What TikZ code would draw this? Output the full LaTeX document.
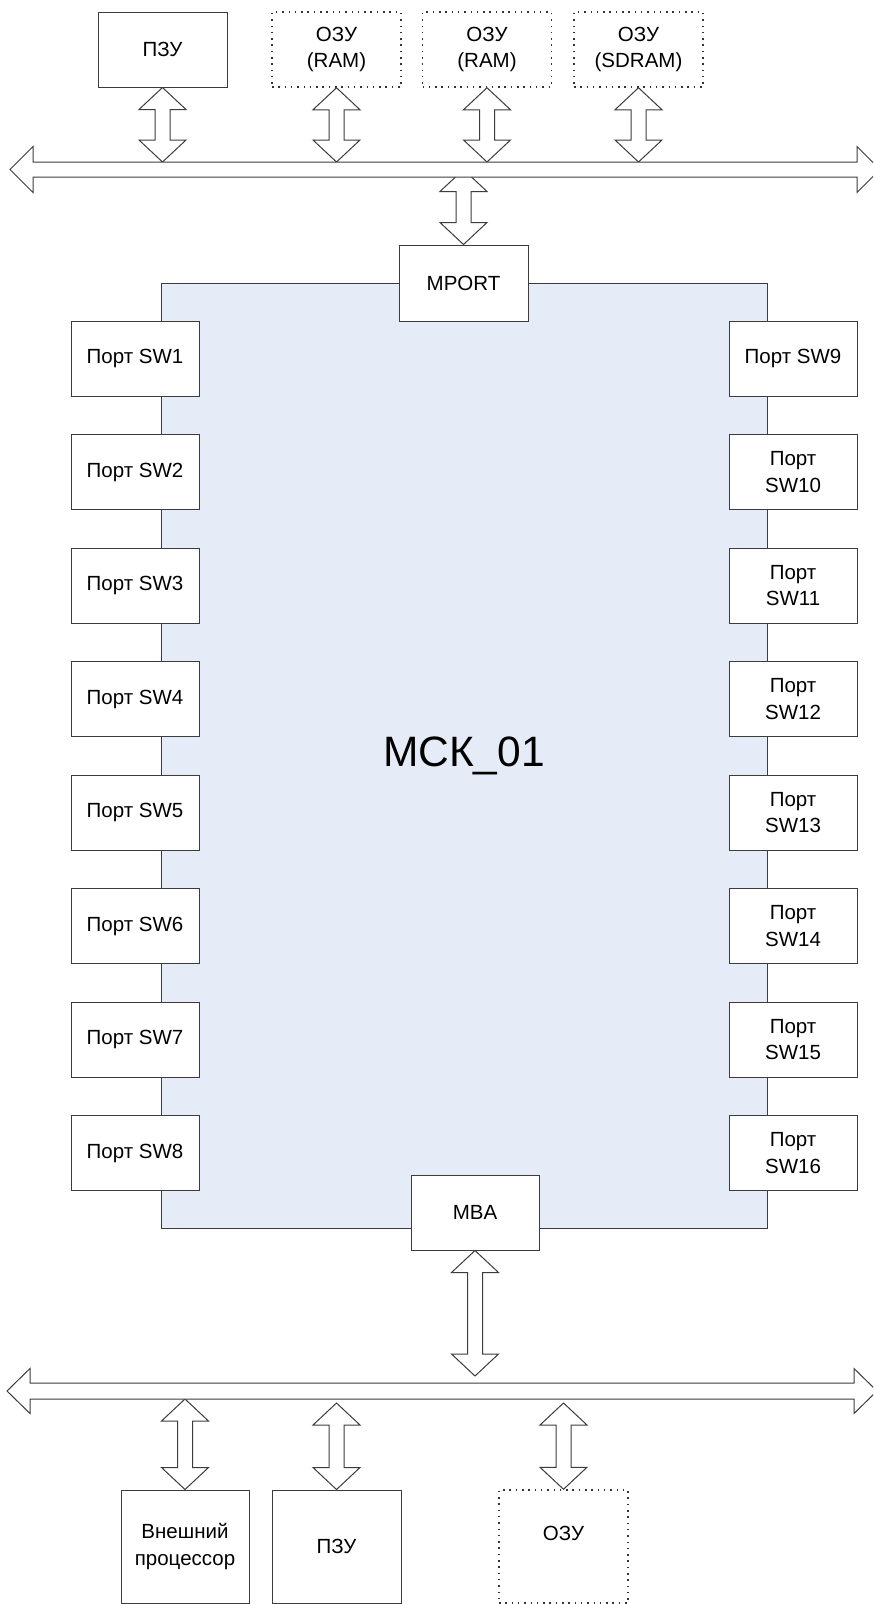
\documentclass[tikz,border=0pt]{standalone}
\usepackage{fontspec}
\setmainfont{Liberation Sans}
\usetikzlibrary{calc}
\definecolor{linec}{RGB}{60,60,60}
\definecolor{mskfill}{RGB}{230,236,247}
% vertical double arrow between two named points (first one is the upper)
\newcommand\dbarrow[2]{%
  \draw[dba] let \p1=(#1), \p2=(#2) in
    (\x1,\y1) -- (\x1+23.5pt,\y1-22pt) -- (\x1+7.5pt,\y1-22pt) --
    (\x1+7.5pt,\y2+22pt) -- (\x1+23.5pt,\y2+22pt) -- (\x1,\y2) --
    (\x1-23.5pt,\y2+22pt) -- (\x1-7.5pt,\y2+22pt) --
    (\x1-7.5pt,\y1-22pt) -- (\x1-23.5pt,\y1-22pt) -- cycle;}
\begin{document}
\begin{tikzpicture}[x=1pt,y=-1pt,
  box/.style={draw=linec, line width=1pt, fill=white, minimum width=128pt,
    minimum height=75pt, inner sep=0pt, align=center,
    font=\fontsize{20.5}{26.5}\selectfont},
  dotbox/.style={box, draw=black!80, line width=1.5pt, dash pattern=on 1.5pt off 4.8pt},
  tallbox/.style={minimum height=113pt},
  dba/.style={draw=linec, line width=1pt, fill=white, line join=miter},
  bus/.style={draw=linec, line width=1pt, fill=white, line join=miter},
  mskbox/.style={draw=linec, line width=1pt, fill=mskfill, minimum width=606pt,
    minimum height=945pt, inner sep=0pt, font=\fontsize{42.5}{48}\selectfont}]
\clip (0,0) rectangle (873,1604);
\fill[white] (0,0) rectangle (873,1604);

% main block
\node[mskbox] (msk) at (464,755.5) {\raisebox{-2pt}{МСК\_01}};

% ports
\foreach \i in {1,...,8}
  \node[box] (p\i) at (135,{358.5+113.5*(\i-1)}) {Порт SW\i};
\node[box] (p9) at (793,358.5) {Порт SW9};
\foreach \i in {10,...,16}
  \node[box] (p\i) at (793,{358.5+113.5*(\i-9)}) {Порт\\SW\i};

\node[box, minimum height=76pt, minimum width=129pt] (mport) at (463.5,283) {MPORT};
\node[box] (mba) at (475,1212.5) {MBA};

% top memories
\node[box, minimum width=129pt] (pzu1) at (162.5,49.5) {ПЗУ};
\node[dotbox, minimum width=129pt] (ram1) at (336.5,49.5) {ОЗУ\\(RAM)};
\node[dotbox, minimum width=129pt] (ram2) at (487,49.5) {ОЗУ\\(RAM)};
\node[dotbox, minimum width=129pt] (sdram) at (638.5,49.5) {ОЗУ\\(SDRAM)};

% bottom devices
\node[box, tallbox] (cpu) at (185,1546.5) {Внешний\\процессор};
\node[box, tallbox, minimum width=129pt] (pzu2) at (336.5,1546.5) {ПЗУ};
\node[dotbox, tallbox, minimum width=129pt] (ram3) at (563.5,1546.5) {\raisebox{26pt}{ОЗУ}};

% bus reference lines
\coordinate (b1t) at (0,162);
\coordinate (b1c) at (0,169.5);
\coordinate (b2end) at (0,1376);
\coordinate (b2b) at (0,1399);
\coordinate (b2g) at (0,1403);

% double arrows
\dbarrow{pzu1.south}{pzu1.south |- b1t}
\dbarrow{ram1.south}{ram1.south |- b1t}
\dbarrow{ram2.south}{ram2.south |- b1t}
\dbarrow{sdram.south}{sdram.south |- b1t}
\dbarrow{mport.north |- b1c}{mport.north}
\dbarrow{mba.south}{mba.south |- b2end}
\dbarrow{cpu.north |- b2b}{cpu.north}
\dbarrow{pzu2.north |- b2g}{pzu2.north}
\dbarrow{ram3.north |- b2g}{ram3.north}

% buses
\draw[bus] (10,169.5) -- (33,146.5) -- (33,162) -- (857,162) -- (857,146.5)
  -- (880,169.5) -- (857,192.5) -- (857,177) -- (33,177) -- (33,192.5) -- cycle;
\draw[bus] (7,1391) -- (30,1368.5) -- (30,1383) -- (854,1383) -- (854,1368.5)
  -- (877,1391) -- (854,1413.5) -- (854,1399) -- (30,1399) -- (30,1413.5) -- cycle;
\end{tikzpicture}
\end{document}
